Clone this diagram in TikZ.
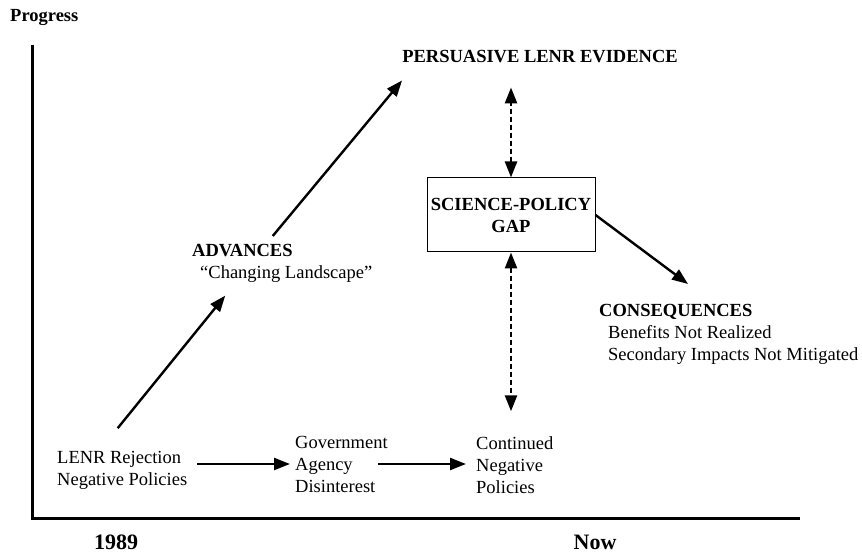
\documentclass[tikz,border=0pt]{standalone}
\usepackage{fontspec}
\setmainfont{Liberation Serif}
\usetikzlibrary{arrows.meta, positioning}

\begin{document}
\begin{tikzpicture}[x=1pt, y=1pt,
    font=\fontsize{18.5}{22}\selectfont,
    txt/.style={inner sep=0pt, align=left},
    hd/.style={inner sep=0pt, font=\fontsize{18.5}{22}\selectfont\bfseries},
    yr/.style={inner sep=0pt, anchor=base, font=\fontsize{22}{26}\selectfont\bfseries},
    arr/.style={line width=2.4pt, -{Triangle[length=16pt, width=12pt]}},
    darr/.style={line width=2.4pt, dash pattern=on 5pt off 3pt,
        {Triangle[length=16pt, width=12pt]}-{Triangle[length=16pt, width=12pt]}},
    gapbox/.style={draw, line width=1pt, minimum width=168pt, minimum height=74pt,
        inner sep=0pt, align=center, font=\fontsize{18.5}{22}\selectfont\bfseries}]
    \useasboundingbox (0,0) rectangle (862,554);

    \draw[line width=3pt] (32,509) |- (800,35);

    \node[hd, anchor=base west] (prog) at (10,532) {Progress};
    \node[yr] (y1989) at (116,4.5) {1989};
    \node[yr] (now) at (595,4.5) {Now};
    \node[hd] (pers) at (540,497) {PERSUASIVE LENR EVIDENCE};
    \node[gapbox] (gap) at (511,339) {SCIENCE-POLICY\\GAP};
    \node[txt, anchor=north west] (adv) at (192,310)
        {\textbf{ADVANCES}\\\hspace{8pt}“Changing Landscape”};
    \node[txt, anchor=north west] (cons) at (599,250)
        {\textbf{CONSEQUENCES}\\\hspace{9pt}Benefits Not Realized\\\hspace{9pt}Secondary Impacts Not Mitigated};
    \node[txt, anchor=west] (rej) at (57,84) {LENR Rejection\\Negative Policies};
    \node[txt, anchor=west] (gov) at (295,90) {Government\\Agency\\Disinterest};
    \node[txt, anchor=west] (cont) at (476,89) {Continued\\Negative\\Policies};

    \draw[arr] ([xshift=-4.5pt, yshift=22.5pt]rej.north) -- ([xshift=-57pt, yshift=-13pt]adv.south);
    \draw[arr] ([xshift=-9.5pt, yshift=8pt]adv.north) -- ([yshift=-17pt]pers.south west);
    \draw[arr] ([xshift=10pt]rej.east |- gov.west) -- ([xshift=-5pt]gov.west);
    \draw[arr] ([xshift=-10pt]gov.east) -- ([xshift=-10pt]cont.west |- gov.east);
    \draw[darr] (gap.north) -- ([yshift=-24pt]gap.north |- pers.south);
    \draw[darr] (gap.south) -- ([yshift=25pt]gap.south |- cont.north);
    \draw[arr] (gap.east) -- ([xshift=89pt, yshift=20pt]cons.north west);
\end{tikzpicture}
\end{document}
